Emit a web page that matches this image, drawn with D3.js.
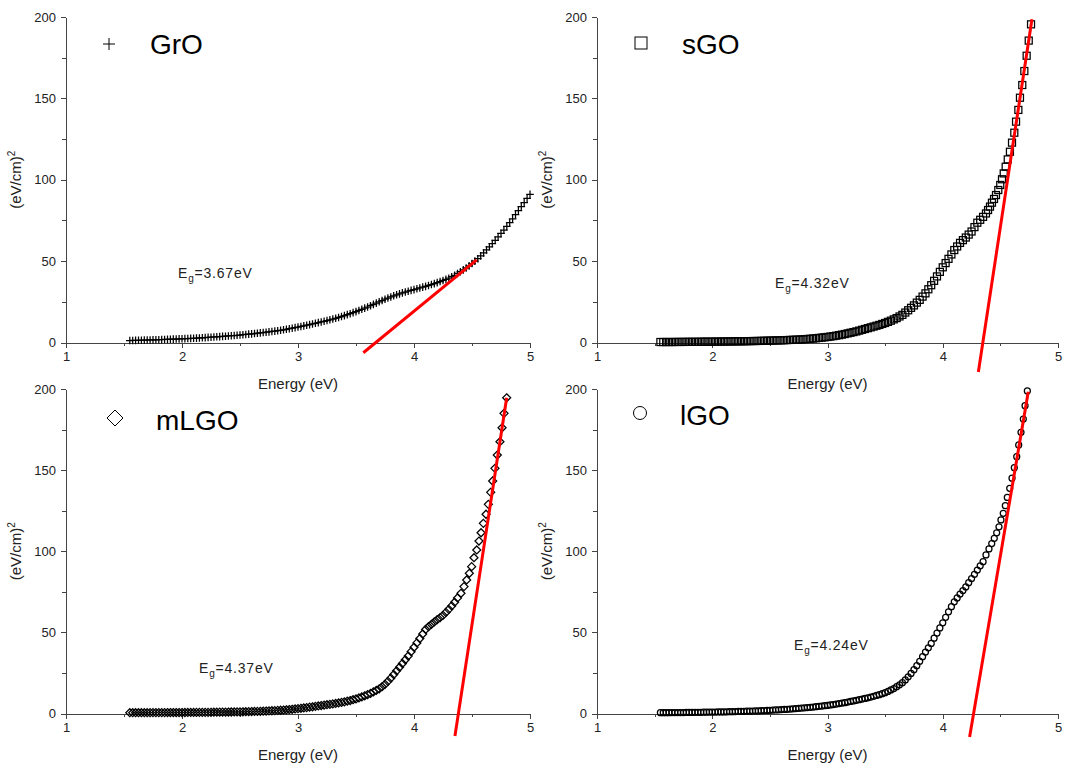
<!DOCTYPE html>
<meta charset="utf-8">
<style>
body { margin: 0; background: #fff; }
svg { font-family: Arial, "Liberation Sans", sans-serif; }
.axis path, .axis line { stroke: #444; shape-rendering: crispEdges; }
.axis text { fill: #222; }
.fit { stroke: #ff0000; stroke-width: 3; fill: none; }
.pt { fill: none; stroke: #000; stroke-width: 1; }
.data { stroke-width: 1.25; }
</style>
<svg width="1065" height="767"></svg>
<script src="https://cdn.jsdelivr.net/npm/d3@7"></script>
<script>

// values
var xTicks = [1, 2, 3, 4, 5],
    xMinor = [1.5, 2.5, 3.5, 4.5],
    yTicks = [0, 50, 100, 150, 200],
    yMinor = [25, 75, 125, 175];

var names = ["GrO", "sGO", "mLGO", "lGO"];
var gaps = ["3.67", "4.32", "4.37", "4.24"];

// energies (eV) at which the dense part of each curve was read
var energyGrid = [
  1.55,1.575,1.6,1.625,1.65,1.675,1.7,1.725,1.75,1.775,
  1.8,1.825,1.85,1.875,1.9,1.925,1.95,1.975,2.0,2.025,
  2.05,2.075,2.1,2.125,2.15,2.175,2.2,2.225,2.25,2.275,
  2.3,2.325,2.35,2.375,2.4,2.425,2.45,2.475,2.5,2.525,
  2.55,2.575,2.6,2.625,2.65,2.675,2.7,2.725,2.75,2.775,
  2.8,2.825,2.85,2.875,2.9,2.925,2.95,2.975,3.0,3.025,
  3.05,3.075,3.1,3.125,3.15,3.175,3.2,3.225,3.25,3.275,
  3.3,3.325,3.35,3.375,3.4,3.425,3.45,3.475,3.5,3.525,
  3.55,3.575,3.6,3.625,3.65,3.675,3.7,3.725,3.75,3.775,
  3.8,3.825,3.85,3.875,3.9,3.925,3.95,3.975,4.0,4.025,
  4.05,4.075,4.1,4.125,4.15,4.175,4.2,4.225,4.25,4.275,
  4.3,4.325,4.35,4.375,4.4,4.425,4.45,4.475,4.5,4.525,
  4.55,4.575,4.6,4.625,4.65,4.675,4.7,4.725,4.75,4.775,
  4.8,4.825,4.85,4.875,4.9,4.925,4.95,4.975,5.0];

var valueGrO = [
  1.2,1.25,1.3,1.35,1.4,1.45,1.5,1.55,1.6,1.65,
  1.7,1.78,1.85,1.92,2.0,2.08,2.15,2.22,2.3,2.38,
  2.45,2.52,2.6,2.7,2.8,2.9,3.0,3.12,3.25,3.38,
  3.5,3.62,3.75,3.88,4.0,4.15,4.3,4.45,4.6,4.78,
  4.95,5.12,5.3,5.5,5.7,5.9,6.1,6.32,6.55,6.78,
  7.0,7.25,7.5,7.8,8.1,8.45,8.8,9.15,9.5,9.85,
  10.2,10.6,11.0,11.4,11.8,12.2,12.6,13.05,13.5,13.95,
  14.4,14.9,15.4,15.95,16.5,17.1,17.7,18.35,19.0,19.7,
  20.4,21.1,21.8,22.6,23.4,24.2,25.0,25.8,26.6,27.3,
  28.0,28.7,29.3,29.9,30.5,31.0,31.5,32.0,32.5,33.0,
  33.5,34.0,34.5,35.05,35.6,36.2,36.8,37.45,38.1,38.8,
  39.5,40.4,41.3,42.4,43.5,44.6,45.8,47.1,48.5,50.0,
  51.5,53.2,55.0,56.9,58.8,60.8,62.8,64.9,67.0,69.1,
  71.3,73.6,76.0,78.5,81.0,83.5,86.0,88.5,91.0];

var valueSGO = [
  0.3,0.3,0.3,0.3,0.3,0.32,0.35,0.35,0.35,0.38,
  0.4,0.4,0.4,0.42,0.45,0.48,0.5,0.5,0.5,0.52,
  0.55,0.58,0.6,0.62,0.65,0.68,0.7,0.72,0.75,0.78,
  0.8,0.85,0.9,0.92,0.95,1.0,1.05,1.1,1.15,1.2,
  1.25,1.3,1.35,1.42,1.5,1.58,1.65,1.72,1.8,1.9,
  2.0,2.15,2.3,2.45,2.6,2.8,3.0,3.2,3.4,3.65,
  3.9,4.2,4.5,4.85,5.2,5.6,6.0,6.4,6.8,7.3,
  7.8,8.3,8.8,9.3,9.8,10.3,10.8,11.4,12.0,12.7,
  13.4,14.2,15.0,16.0,17.0,18.4,19.8,21.3,22.8,24.5,
  26.2,28.2,30.2,32.7,35.2,37.9,40.6,43.4,46.2,48.8,
  51.4,54.1,56.8,59.0,61.2,62.9,64.5,66.3,68.2,70.9,
  73.6,75.4,77.2,79.3];
var tailEnergySGO = [4.393,4.41,4.427,4.445,4.462,4.482,4.499,4.514,4.529,4.546,4.564,
  4.583,4.601,4.621,4.636,4.656,4.67,4.69,4.708,4.728,4.746,4.766];
var tailValueSGO = [81.4,83.5,85.9,88.2,90.6,93.7,96.8,100.3,103.9,108.0,112.5,
  117.2,122.8,128.9,135.7,142.9,150.4,158.2,166.8,176.2,185.5,195.5];

var valueMLGO = [
  0.5,0.5,0.5,0.5,0.5,0.5,0.5,0.52,0.55,0.55,
  0.55,0.55,0.55,0.58,0.6,0.6,0.6,0.6,0.6,0.62,
  0.65,0.65,0.65,0.68,0.7,0.7,0.7,0.72,0.75,0.78,
  0.8,0.82,0.85,0.88,0.9,0.92,0.95,0.98,1.0,1.05,
  1.1,1.15,1.2,1.25,1.3,1.35,1.4,1.5,1.6,1.7,
  1.8,1.9,2.0,2.15,2.3,2.45,2.6,2.8,3.0,3.2,
  3.4,3.65,3.9,4.15,4.4,4.65,4.9,5.15,5.4,5.65,
  5.9,6.2,6.5,6.85,7.2,7.6,8.0,8.5,9.0,9.6,
  10.2,10.9,11.6,12.4,13.3,14.2,15.2,16.5,18.0,19.8,
  21.8,24.0,26.3,28.5,30.8,33.1,35.4,38.1,40.8,43.5,
  46.2,49.0,51.8,53.5,55.0,56.4,57.8,59.1,60.5,62.3,
  64.2,66.3,68.6,71.2];
var tailEnergyMLGO = [4.405,4.431,4.454,4.477,4.497,4.517,4.541,4.56,4.578,4.598,
  4.621,4.641,4.661,4.678,4.698,4.718,4.741,4.759,4.776,4.799];
var tailValueMLGO = [74.1,78.2,82.3,86.4,90.5,96.0,100.8,106.3,111.4,117.2,
  122.8,128.9,136.3,143.3,151.1,159.3,167.5,176.1,185.0,194.6];

var valueLGO = [
  0.5,0.5,0.5,0.52,0.55,0.55,0.55,0.58,0.6,0.62,
  0.65,0.68,0.7,0.72,0.75,0.78,0.8,0.85,0.9,0.92,
  0.95,0.98,1.0,1.05,1.1,1.15,1.2,1.25,1.3,1.35,
  1.4,1.45,1.5,1.55,1.6,1.7,1.8,1.9,2.0,2.1,
  2.2,2.3,2.4,2.5,2.6,2.75,2.9,3.05,3.2,3.35,
  3.5,3.65,3.8,4.0,4.2,4.4,4.6,4.8,5.0,5.25,
  5.5,5.8,6.1,6.4,6.7,7.05,7.4,7.75,8.1,8.5,
  8.9,9.3,9.7,10.15,10.6,11.1,11.6,12.2,12.8,13.6,
  14.5,15.4,16.5,17.7,19.0,20.7,22.6,24.7,27.0,29.5,
  32.2,35.0,37.9,40.5,43.2,46.4,49.6,52.7,55.9,59.3,
  62.7,65.8,68.8,71.2,73.6,75.8,78.0,80.6,83.2,85.8,
  88.4,91.0,93.6];
var tailEnergyLGO = [4.375,4.401,4.425,4.447,4.468,4.488,4.505,4.525,4.543,4.56,
  4.581,4.601,4.621,4.642,4.659,4.679,4.699,4.714,4.734];
var tailValueLGO = [97.7,101.4,104.7,108.0,111.4,115.1,119.3,123.4,128.1,133.2,
  138.8,145.0,151.5,158.3,165.5,173.3,181.5,189.7,198.8];

// linear fits (two end points each)
var fitEnergy = [[3.563, 4.540], [4.309, 4.774], [4.353, 4.799], [4.233, 4.742]];
var fitValue = [[-6.3, 50.8], [-18.1, 198.6], [-13.9, 194.6], [-14.5, 198.3]];

function join(vals, tailE, tailV) {
  return d3.zip(energyGrid.slice(0, vals.length), vals).concat(d3.zip(tailE, tailV));
}

var series = [
  join(valueGrO, [], []),
  join(valueSGO, tailEnergySGO, tailValueSGO),
  join(valueMLGO, tailEnergyMLGO, tailValueMLGO),
  join(valueLGO, tailEnergyLGO, tailValueLGO)
];

var svg = d3.select("svg");

// panel frames: x range and y range in pixels
var layout = [
  {x: [66, 530], y: [342.5, 17], sym: [109, 44], name: [150, 54], eg: [178, 278]},
  {x: [597, 1058], y: [342.5, 17], sym: [641, 43], name: [682, 54], eg: [775, 288]},
  {x: [66, 530], y: [713.5, 389], sym: [115, 418], name: [156, 430], eg: [199, 673]},
  {x: [597, 1058], y: [713.5, 389], sym: [640, 413], name: [680, 425], eg: [794, 650]}
];

var marks = [
  function(g, s) { g.append("path").attr("d", "M" + (-s) + ",0H" + s + "M0," + (-s) + "V" + s); },
  function(g, s) { g.append("rect").attr("x", -s).attr("y", -s).attr("width", 2 * s).attr("height", 2 * s); },
  function(g, s) { g.append("path").attr("d", "M0," + (-s) + "L" + s + ",0L0," + s + "L" + (-s) + ",0Z"); },
  function(g, s) { g.append("circle").attr("r", s); }
];
var markSize = [3.8, 3.5, 4, 3];
var legendSize = [6, 6, 8, 6.5];

layout.forEach(function(L, i) {
  var x = d3.scaleLinear().domain([1, 5]).range(L.x),
      y = d3.scaleLinear().domain([0, 200]).range(L.y);

  var g = svg.append("g");

  // minor ticks
  g.append("g").attr("class", "axis")
      .attr("transform", "translate(0," + y(0) + ")")
      .call(d3.axisBottom(x).tickValues(xMinor).tickSize(3).tickFormat(""))
    .select(".domain").remove();
  g.append("g").attr("class", "axis")
      .attr("transform", "translate(" + x(1) + ",0)")
      .call(d3.axisLeft(y).tickValues(yMinor).tickSize(4).tickFormat(""))
    .select(".domain").remove();

  var xa = g.append("g").attr("class", "axis")
      .attr("transform", "translate(0," + y(0) + ")")
      .call(d3.axisBottom(x).tickValues(xTicks).tickSize(5).tickSizeOuter(0).tickPadding(4).tickFormat(d3.format("d")));
  xa.attr("font-size", 13).attr("font-family", null);

  var ya = g.append("g").attr("class", "axis")
      .attr("transform", "translate(" + x(1) + ",0)")
      .call(d3.axisLeft(y).tickValues(yTicks).tickSize(5).tickSizeOuter(0).tickPadding(5));
  ya.attr("font-size", 13).attr("font-family", null);

  g.append("text")
      .attr("x", (L.x[0] + L.x[1]) / 2)
      .attr("y", L.y[0] + 46)
      .attr("text-anchor", "middle")
      .attr("font-size", 15)
      .attr("fill", "#222")
      .text("Energy (eV)");

  var yl = g.append("text")
      .attr("transform", "translate(" + (L.x[0] - 45) + "," + ((L.y[0] + L.y[1]) / 2) + ") rotate(-90)")
      .attr("text-anchor", "middle")
      .attr("font-size", 15)
      .attr("fill", "#222");
  yl.append("tspan").text("(eV/cm)");
  yl.append("tspan").attr("dy", -6).attr("font-size", 10).text("2");

  // data points
  g.append("g").attr("class", "pt data")
    .selectAll("g")
    .data(series[i])
    .enter().append("g")
      .attr("transform", function(d) { return "translate(" + x(d[0]) + "," + y(d[1]) + ")"; })
      .each(function() { marks[i](d3.select(this), markSize[i]); });

  // fit line
  g.append("line").attr("class", "fit")
      .attr("x1", x(fitEnergy[i][0])).attr("y1", y(fitValue[i][0]))
      .attr("x2", x(fitEnergy[i][1])).attr("y2", y(fitValue[i][1]));

  // legend
  var lg = g.append("g").attr("class", "pt")
      .attr("transform", "translate(" + L.sym[0] + "," + L.sym[1] + ")");
  marks[i](lg, legendSize[i]);

  g.append("text")
      .attr("x", L.name[0]).attr("y", L.name[1])
      .attr("font-size", 28)
      .attr("fill", "#000")
      .text(names[i]);

  var eg = g.append("text")
      .attr("x", L.eg[0]).attr("y", L.eg[1])
      .attr("font-size", 14)
      .attr("letter-spacing", 0.8)
      .attr("fill", "#222");
  eg.append("tspan").text("E");
  eg.append("tspan").attr("dy", 4).attr("font-size", 10).text("g");
  eg.append("tspan").attr("dy", -4).text("=" + gaps[i] + "eV");
});

</script>
